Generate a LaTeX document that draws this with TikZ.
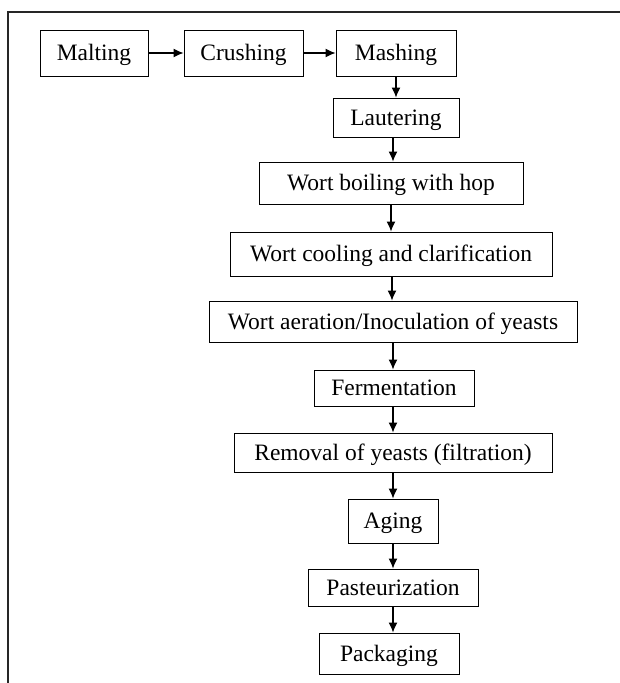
\documentclass[tikz,border=0pt]{standalone}
\usepackage{fontspec}
\setmainfont{Liberation Serif}
\usetikzlibrary{arrows.meta}
\begin{document}
\begin{tikzpicture}[x=1pt,y=-1pt,
  stepbox/.style={draw, line width=0.9pt, inner sep=0pt, minimum height=#1,
    text height=15.6pt, text depth=0pt,
    font=\fontsize{23.5}{28}\selectfont},
  arr/.style={line width=1.2pt, -{Latex[length=10pt,width=9pt]}},
  frame/.style={line width=1.5pt, draw=black!85}]
\useasboundingbox (0,0) rectangle (620,683);
\coordinate (ftop) at (620,12);
\coordinate (fcorner) at (8,12);
\coordinate (fbot) at (8,683);
\draw[frame] (ftop) -- (fcorner) -- (fbot);

\node[stepbox=46pt, minimum width=108pt] (malt) at (94,53) {Malting};
\node[stepbox=46pt, minimum width=119pt] (crush) at (243.5,53) {Crushing};
\node[stepbox=46pt, minimum width=120pt] (mash) at (396,53) {Mashing};
\node[stepbox=39pt, minimum width=126pt] (laut) at (396,117.5) {Lautering};
\node[stepbox=42pt, minimum width=264pt] (boil) at (391,183) {Wort boiling with hop};
\node[stepbox=44pt, minimum width=322pt] (cool) at (391,254) {Wort cooling and clarification};
\node[stepbox=41pt, minimum width=368pt] (aer) at (393,321.5) {Wort aeration/Inoculation of yeasts};
\node[stepbox=36pt, minimum width=160pt] (ferm) at (394,388) {Fermentation};
\node[stepbox=39pt, minimum width=318pt] (rem) at (393,452.5) {Removal of yeasts (filtration)};
\node[stepbox=44pt, minimum width=90pt] (aging) at (393,521) {Aging};
\node[stepbox=37pt, minimum width=170pt] (past) at (393,587.5) {Pasteurization};
\node[stepbox=41pt, minimum width=140pt] (pack) at (389,653.5) {Packaging};

\draw[arr] (malt.east) -- (crush.west);
\draw[arr] (crush.east) -- (mash.west);
\draw[arr] (mash.south) -- (mash.south |- laut.north);
\draw[arr] ([xshift=-3pt]laut.south) -- ([xshift=-3pt]laut.south |- boil.north);
\draw[arr] (boil.south) -- (boil.south |- cool.north);
\draw[arr] ([xshift=1pt]cool.south) -- ([xshift=1pt]cool.south |- aer.north);
\draw[arr] (aer.south) -- (aer.south |- ferm.north);
\draw[arr] ([xshift=-1pt]ferm.south) -- ([xshift=-1pt]ferm.south |- rem.north);
\draw[arr] (rem.south) -- (rem.south |- aging.north);
\draw[arr] (aging.south) -- (aging.south |- past.north);
\draw[arr] (past.south) -- (past.south |- pack.north);
\end{tikzpicture}
\end{document}
